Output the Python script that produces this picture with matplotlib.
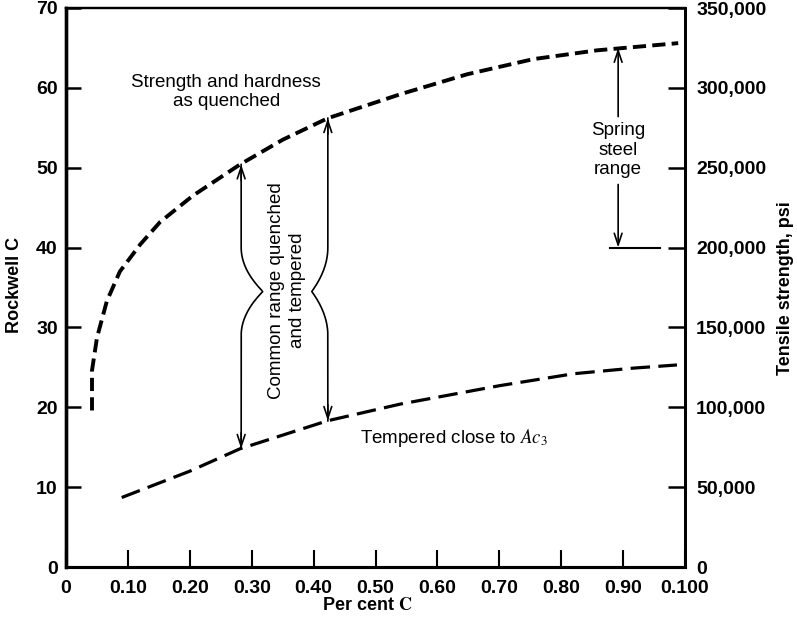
import numpy as np
import matplotlib
matplotlib.use("Agg")
import matplotlib.pyplot as plt

plt.rcParams["font.family"] = ["Liberation Sans", "DejaVu Sans"]
plt.rcParams["mathtext.fontset"] = "stix"
plt.rcParams["lines.scale_dashes"] = False

# strength and hardness as quenched (Rockwell C vs per cent carbon)
quench_c = [0.042, 0.042, 0.050, 0.066, 0.087, 0.12, 0.152, 0.205, 0.281,
            0.35, 0.423, 0.54, 0.648, 0.755, 0.858, 0.989]
quench_rc = [19.6, 24.6, 28.7, 33.3, 37.0, 40.4, 43.2, 46.5, 50.4,
             53.5, 56.2, 59.2, 61.7, 63.6, 64.7, 65.6]

# tempered close to Ac3
temper_c = [0.090, 0.20, 0.281, 0.422, 0.54, 0.70, 0.82, 0.916, 0.987]
temper_rc = [8.7, 12.0, 14.8, 18.3, 20.4, 22.7, 24.2, 24.9, 25.3]

x_ticks = [0, 0.1, 0.2, 0.3, 0.4, 0.5, 0.6, 0.7, 0.8, 0.9, 1.0]
x_labels = ["0", "0.10", "0.20", "0.30", "0.40", "0.50", "0.60", "0.70",
            "0.80", "0.90", "0.100"]
rc_ticks = [0, 10, 20, 30, 40, 50, 60, 70]
psi_ticks = [0, 50000, 100000, 150000, 200000, 250000, 300000, 350000]

# range arrows: x, bottom, top, waist x, waist y
common_left = (0.283, 14.8, 50.4, 0.318, 34.5)
common_right = (0.423, 18.3, 56.2, 0.397, 34.5)
spring_x, spring_lo, spring_hi = 0.892, 40.0, 65.0

fig = plt.figure(figsize=(7.97, 6.23), dpi=100)
ax = fig.add_axes([66 / 797, 56 / 623, 619 / 797, 559 / 623])
ax.set_xlim(0, 1.0)
ax.set_ylim(0, 70)

ax.plot(quench_c, quench_rc, color="black", lw=2.8, dashes=(9.5, 4.5),
        dash_capstyle="butt")
ax.plot(temper_c, temper_rc, color="black", lw=2.3, dashes=(14, 6),
        dash_capstyle="butt")


def brace(x0, lo, hi, xw, yw, h=5.5):
    y = np.linspace(lo, hi, 200)
    t = np.clip(1 - np.abs(y - yw) / h, 0, 1)
    return x0 + (xw - x0) * t ** 2, y


arrow_kw = dict(arrowstyle="->,head_length=0.6,head_width=0.2", lw=1.2,
                color="black", mutation_scale=14, shrinkA=0, shrinkB=0)
for x0, lo, hi, xw, yw in (common_left, common_right):
    bx, by = brace(x0, lo, hi, xw, yw)
    ax.plot(bx, by, color="black", lw=1.2)
    ax.annotate("", xy=(x0, hi), xytext=(x0, hi - 2), arrowprops=arrow_kw)
    ax.annotate("", xy=(x0, lo), xytext=(x0, lo + 2), arrowprops=arrow_kw)

ax.text(0.357, 34.6, "Common range quenched\nand tempered", rotation=90,
        ha="center", va="center", fontsize=13.5, linespacing=1.3)

# spring steel range
ax.annotate("", xy=(spring_x, spring_hi), xytext=(spring_x, 56.4),
            arrowprops=arrow_kw)
ax.annotate("", xy=(spring_x, spring_lo), xytext=(spring_x, 47.9),
            arrowprops=arrow_kw)
ax.plot([0.879, 0.96], [spring_lo, spring_lo], color="black", lw=1.5)
ax.text(spring_x, 52.2, "Spring\nsteel\nrange", ha="center", va="center",
        fontsize=13.5, linespacing=1.2)

ax.text(0.259, 59.5, "Strength and hardness\nas quenched", ha="center",
        va="center", fontsize=13.5, linespacing=1.2)
ax.text(0.475, 16.1, r"Tempered close to $\mathbf{\mathit{Ac}}_{3}$",
        ha="left", va="center", fontsize=13.5)

ax.set_xticks(x_ticks)
ax.set_xticklabels(x_labels)
ax.set_yticks(rc_ticks)
ax.tick_params(axis="x", direction="in", length=12, width=1.5, pad=9.5,
               labelsize=14)
ax.tick_params(axis="y", direction="in", length=11, width=1.8, pad=6,
               labelsize=14)
for lab in ax.get_xticklabels() + ax.get_yticklabels():
    lab.set_fontweight("bold")

ax2 = ax.twinx()
ax2.set_ylim(0, 350000)
ax2.set_yticks(psi_ticks)
ax2.set_yticklabels(["0" if v == 0 else f"{v:,}" for v in psi_ticks])
ax2.tick_params(axis="y", direction="in", length=12, width=1.8, pad=8,
                labelsize=14)
for lab in ax2.get_yticklabels():
    lab.set_fontweight("bold")

for a in (ax, ax2):
    a.spines["left"].set_linewidth(2.4)
    a.spines["bottom"].set_linewidth(2.2)
    a.spines["right"].set_linewidth(2.0)
    a.spines["top"].set_linewidth(1.6)

fig.text(15 / 797, 1 - 285 / 623, "Rockwell C", rotation=90, ha="center",
         va="center", fontsize=13, fontweight="bold")
fig.text(786 / 797, 1 - 288 / 623, "Tensile strength, psi", rotation=90,
         ha="center", va="center", fontsize=13, fontweight="bold")
fig.text(367 / 797, 1 - 606 / 623, r"Per cent $\mathbf{C}$", ha="center",
         va="center", fontsize=13, fontweight="bold")

fig.savefig("out.png", dpi=100)
